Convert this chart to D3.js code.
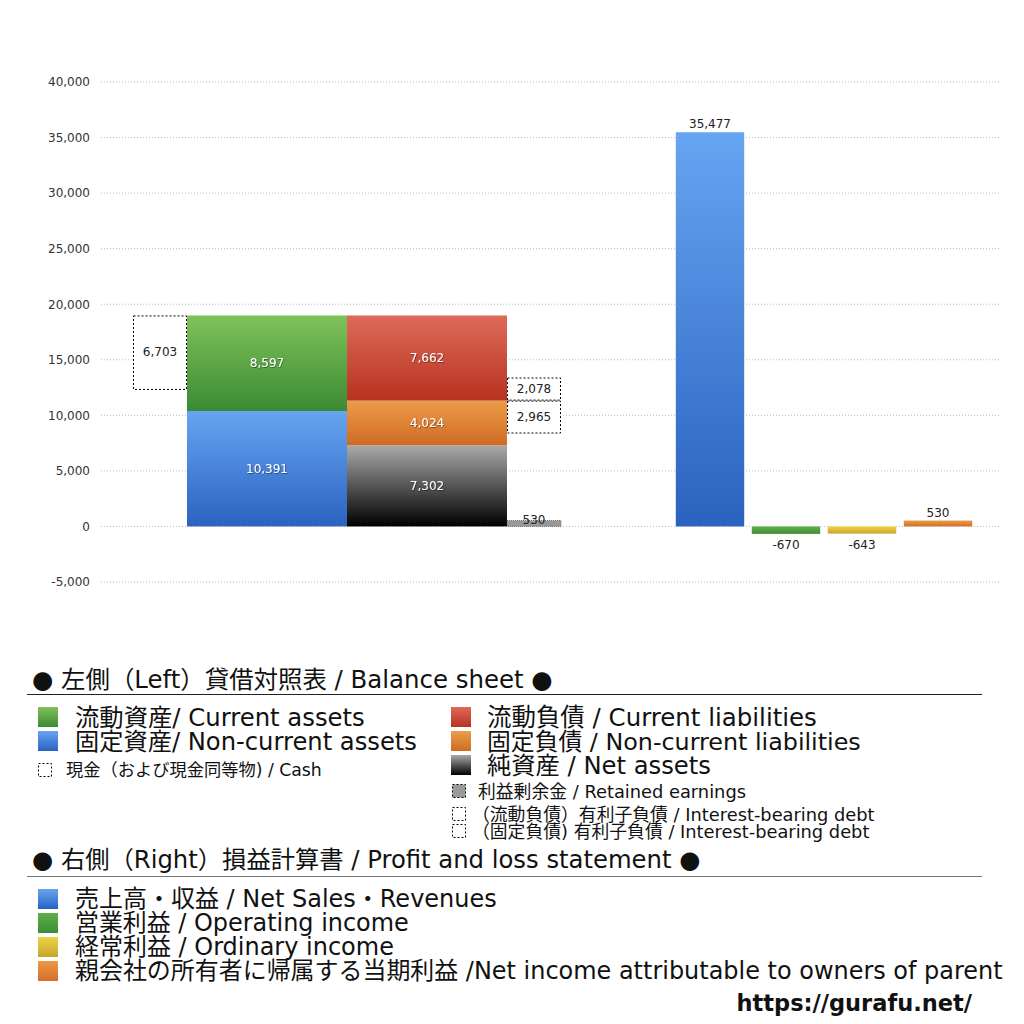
<!DOCTYPE html>
<html><head><meta charset="utf-8">
<script src="https://cdn.jsdelivr.net/npm/d3@7"></script>
<style>
body{margin:0;background:#fff;}
svg{display:block;font-family:"DejaVu Sans","Noto Sans CJK JP",sans-serif;}
</style></head>
<body>
<svg id="chart" width="1024" height="1024"></svg>
<script>
// ---- data ----
const yTicks = [-5000, 0, 5000, 10000, 15000, 20000, 25000, 30000, 35000, 40000];
const bsColumns = ["assets", "liabilities"];
const assetNames = ["固定資産/ Non-current assets", "流動資産/ Current assets"];
const assetValues = [10391, 8597];
const liabNames = ["純資産 / Net assets", "固定負債 / Non-current liabilities", "流動負債 /  Current liabilities"];
const liabValues = [7302, 4024, 7662];
const cashValue = 6703;
const debtNames = ["（流動負債）有利子負債 / Interest-bearing debt", "（固定負債) 有利子負債 / Interest-bearing debt"];
const debtValues = [2078, 2965];
const retainedEarnings = 530;
const plNames = ["売上高・収益 / Net Sales・Revenues", "営業利益 / Operating income", "経常利益 / Ordinary income", "親会社の所有者に帰属する当期利益 /Net income attributable to owners of parent"];
const plValues = [35477, -670, -643, 530];

const svg = d3.select("#chart");
const defs = svg.append("defs");
function grad(id, top, bottom) {
  const g = defs.append("linearGradient").attr("id", id).attr("x1", 0).attr("y1", 0).attr("x2", 0).attr("y2", 1);
  g.append("stop").attr("offset", "0%").attr("stop-color", top);
  g.append("stop").attr("offset", "100%").attr("stop-color", bottom);
}
grad("gGreen", "#7fc25a", "#3b8a34");
grad("gBlue", "#66a5f2", "#2b62bf");
grad("gRed", "#de6a5a", "#b8321f");
grad("gOrange", "#eb9d48", "#d06a25");
grad("gGray", "#aaaaaa", "#000000");
grad("gYellow", "#f0d24a", "#c8a32a");
grad("gOrange2", "#ec9a45", "#d2702a");
grad("gGreen2", "#5fb04a", "#3d8d35");
const f = defs.append("filter").attr("id", "shadow");
f.append("feDropShadow").attr("dx", 0.6).attr("dy", 0.8).attr("stdDeviation", 0.6).attr("flood-color", "#000").attr("flood-opacity", 0.5);

const y = d3.scaleLinear().domain([-5000, 40000]).range([582, 82]);
const fmt = v => d3.format(",")(v).replace("−", "-");
const numFont = "DejaVu Sans, sans-serif";

// grid + axis
const axis = d3.axisLeft(y).tickValues(yTicks).tickFormat(fmt).tickSize(0).tickPadding(0);
const gAxis = svg.append("g").attr("transform", "translate(90,0)").call(axis);
gAxis.select(".domain").remove();
gAxis.selectAll("text").attr("font-size", 12).attr("fill", "#333").attr("font-family", numFont);
svg.append("g").selectAll("line").data(yTicks).join("line")
  .attr("x1", 101).attr("x2", 1000).attr("y1", d => y(d)).attr("y2", d => y(d))
  .attr("stroke", "#bbb").attr("stroke-dasharray", "1,2").attr("stroke-width", 1);

// left: balance sheet
const xBS = d3.scaleBand().domain(bsColumns).range([187, 507]).padding(0);
const sideW = 54;
function stack(vals) { let acc = 0; return vals.map(v => { const r = { y0: acc, y1: acc + v, v }; acc += v; return r; }); }
const aStack = stack(assetValues).map((d, i) => ({ ...d, fill: ["url(#gBlue)", "url(#gGreen)"][i] }));
const lStack = stack(liabValues).map((d, i) => ({ ...d, fill: ["url(#gGray)", "url(#gOrange)", "url(#gRed)"][i] }));
const bs = svg.append("g");
function drawStack(data, col) {
  bs.selectAll(null).data(data).join("rect")
    .attr("x", xBS(col)).attr("width", xBS.bandwidth())
    .attr("y", d => y(d.y1)).attr("height", d => y(d.y0) - y(d.y1)).attr("fill", d => d.fill);
  bs.selectAll(null).data(data).join("text")
    .attr("x", xBS(col) + xBS.bandwidth() / 2).attr("y", d => (y(d.y0) + y(d.y1)) / 2 + 4)
    .attr("text-anchor", "middle").attr("font-size", 12).attr("fill", "#fff").attr("filter", "url(#shadow)")
    .attr("font-family", numFont).text(d => fmt(d.v));
}
drawStack(aStack, "assets");
drawStack(lStack, "liabilities");

const totalAssets = d3.sum(assetValues);
const boxes = [
  { x: xBS("assets") - sideW, top: totalAssets, bot: totalAssets - cashValue, v: cashValue },
  { x: xBS("liabilities") + xBS.bandwidth(), top: liabValues[0] + liabValues[1] + debtValues[0], bot: liabValues[0] + liabValues[1], v: debtValues[0] },
  { x: xBS("liabilities") + xBS.bandwidth(), top: liabValues[0] + liabValues[1], bot: liabValues[0] + liabValues[1] - debtValues[1], v: debtValues[1] }
];
bs.selectAll(null).data(boxes).join("rect")
  .attr("x", d => d.x + 0.5).attr("width", sideW - 1).attr("y", d => y(d.top) + 0.5).attr("height", d => y(d.bot) - y(d.top) - 1)
  .attr("fill", "#fff").attr("stroke", "#000").attr("stroke-width", 1).attr("stroke-dasharray", "2,2");
bs.selectAll(null).data(boxes).join("text")
  .attr("x", d => d.x + sideW / 2).attr("y", (d, i) => i === 0 ? y(d.top) + 41 : (y(d.top) + y(d.bot)) / 2 + 4)
  .attr("text-anchor", "middle").attr("font-size", 12).attr("fill", "#222").attr("font-family", numFont)
  .text(d => fmt(d.v));
const reX = xBS("liabilities") + xBS.bandwidth();
bs.append("rect").attr("x", reX).attr("width", sideW).attr("y", y(retainedEarnings)).attr("height", y(0) - y(retainedEarnings))
  .attr("fill", "#999").attr("stroke", "#555").attr("stroke-width", 0.8).attr("stroke-dasharray", "1,1");
bs.append("text").attr("x", reX + sideW / 2).attr("y", y(retainedEarnings) + 3).attr("text-anchor", "middle")
  .attr("font-size", 12).attr("fill", "#222").attr("font-family", numFont).text(fmt(retainedEarnings));

// right: P&L
const xPL = d3.scaleBand().domain(plNames).range([672, 976]).paddingInner(0.1).paddingOuter(0.05);
const plFills = ["url(#gBlue)", "url(#gGreen2)", "url(#gYellow)", "url(#gOrange2)"];
const pl = svg.append("g");
pl.selectAll("rect").data(plNames).join("rect")
  .attr("x", d => xPL(d)).attr("width", xPL.bandwidth())
  .attr("y", (d, i) => y(Math.max(0, plValues[i]))).attr("height", (d, i) => Math.abs(y(plValues[i]) - y(0)))
  .attr("fill", (d, i) => plFills[i]);
pl.selectAll("text").data(plNames).join("text")
  .attr("x", d => xPL(d) + xPL.bandwidth() / 2)
  .attr("y", (d, i) => plValues[i] >= 0 ? y(plValues[i]) - 4 : y(plValues[i]) + 15)
  .attr("text-anchor", "middle").attr("font-size", 12).attr("fill", "#222").attr("font-family", numFont)
  .text((d, i) => fmt(plValues[i]));

// ---- legend ----
const lg = svg.append("g").attr("fill", "#111");
function txt(x, yy, size, t, right) {
  const el = lg.append("text").attr("x", x).attr("y", yy).attr("font-size", size).text(t);
  const len = el.node().getComputedTextLength();
  let k = (right - x) / len;
  k = Math.max(0.85, Math.min(1.15, k));
  el.attr("font-size", size * k);
  return el;
}
function sq(x, yy, s, fill, dashed) {
  lg.append("rect").attr("x", x + (dashed ? 0.5 : 0)).attr("y", yy + (dashed ? 0.5 : 0)).attr("width", s - (dashed ? 1 : 0)).attr("height", s - (dashed ? 1 : 0))
    .attr("fill", fill).attr("stroke", dashed ? "#000" : "none").attr("stroke-dasharray", dashed ? "2,2" : null);
}

txt(32, 688, 22, "● 左側（Left）貸借対照表 / Balance sheet ●", 553);
lg.append("line").attr("x1", 27).attr("x2", 982).attr("y1", 694.5).attr("y2", 694.5).attr("stroke", "#222").attr("stroke-width", 1);

sq(38, 707, 20, "url(#gGreen)"); txt(75, 726, 22, assetNames[1], 365);
sq(38, 731, 20, "url(#gBlue)"); txt(75, 750, 22, assetNames[0], 417);
sq(38, 763, 14, "#fff", true); txt(66, 776, 15, "現金（および現金同等物) / Cash", 335);

sq(451, 707, 20, "url(#gRed)"); txt(487, 726, 22, liabNames[2], 817);
sq(451, 731, 20, "url(#gOrange)"); txt(487, 750, 22, liabNames[1], 861);
sq(451, 755, 20, "url(#gGray)"); txt(487, 774, 22, liabNames[0], 711);
sq(452, 784, 14, "#999", true); txt(478, 798, 15.5, "利益剰余金 / Retained earnings", 749);
sq(452, 807, 14, "#fff", true); txt(472, 821, 15.5, debtNames[0], 886);
sq(452, 824, 14, "#fff", true); txt(472, 838, 15.5, debtNames[1], 881);

txt(32, 868, 22, "● 右側（Right）損益計算書 / Profit and loss statement ●", 701);
lg.append("line").attr("x1", 27).attr("x2", 982).attr("y1", 876.5).attr("y2", 876.5).attr("stroke", "#777").attr("stroke-width", 1.2);

const plRight = [497, 409, 394, 1003];
const plSq = ["url(#gBlue)", "url(#gGreen2)", "url(#gYellow)", "url(#gOrange2)"];
plNames.forEach((n, i) => {
  sq(38, 889 + i * 24, 20, plSq[i]);
  txt(75, 907 + i * 24, 23, n, plRight[i]);
});

svg.append("text").attr("x", 972).attr("y", 1011).attr("text-anchor", "end").attr("font-size", 22.5).attr("font-weight", "bold")
  .attr("font-family", "DejaVu Sans, sans-serif").attr("fill", "#111").text("https://gurafu.net/");
</script>
</body></html>
